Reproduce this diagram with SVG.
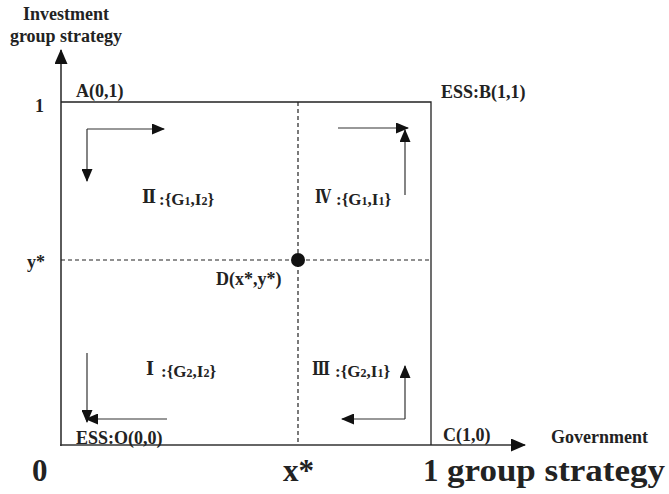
<svg xmlns="http://www.w3.org/2000/svg" width="669" height="494" viewBox="0 0 669 494">
<style>
text{font-family:"Liberation Serif","DejaVu Serif",serif;font-weight:bold;fill:#222}
.s18{font-size:18px}
.s17{font-size:17px}
.sub{font-size:12px}
.big{font-size:31px}
.rn{font-size:19px;font-family:"DejaVu Serif","Liberation Serif",serif}
.ln{stroke:#222;stroke-width:1.3;fill:none}
.ax{stroke:#333;stroke-width:1.6;fill:none}
.ds{stroke:#222;stroke-width:1.2;stroke-dasharray:4,3;fill:none}
.ar{stroke:#333;stroke-width:1.2;fill:none;marker-end:url(#ah)}
</style>
<defs>
<marker id="ah" markerWidth="13" markerHeight="11" refX="12" refY="5.5" orient="auto" markerUnits="userSpaceOnUse">
<path d="M0,0 L13,5.5 L0,11 Z" fill="#111"/>
</marker>
<marker id="axh" markerWidth="15" markerHeight="13" refX="14" refY="6.5" orient="auto" markerUnits="userSpaceOnUse">
<path d="M0,0 L15,6.5 L0,13 Z" fill="#111"/>
</marker>
</defs>
<g id="axes">
<line class="ax" x1="61" y1="446" x2="61" y2="50" marker-end="url(#axh)"/>
<line class="ax" x1="60" y1="445" x2="525" y2="445" marker-end="url(#axh)"/>
</g>
<g id="frame">
<polyline class="ln" points="61,102 431,102 431,445"/>
<line class="ds" x1="298" y1="102" x2="298" y2="445"/>
<line class="ds" x1="61" y1="260" x2="431" y2="260"/>
</g>
<g id="connectors">
<path class="ar" d="M87,129 L164,129"/>
<path class="ar" d="M87,129 L87,181"/>
<path class="ar" d="M338,128 L408,128"/>
<path class="ar" d="M405,195 L405,130"/>
<path class="ar" d="M87,353 L87,422"/>
<path class="ar" d="M167,419 L86,419"/>
<path class="ar" d="M405,419 L405,366"/>
<path class="ar" d="M405,419 L342,419"/>
</g>
<g id="D">
<circle cx="298" cy="260" r="7" fill="#111"/>
<text class="s18" x="216" y="285">D(x*,y*)</text>
</g>
<g id="labels">
<text class="s18" x="66" y="20" text-anchor="middle">Investment</text>
<text class="s18" x="66" y="42" text-anchor="middle">group strategy</text>
<text class="s18" x="76" y="97">A(0,1)</text>
<text class="s18" x="441" y="98">ESS:B(1,1)</text>
<text class="s18" x="35" y="112">1</text>
<text class="s18" x="27" y="268">y*</text>
<text class="s18" x="76" y="444">ESS:O(0,0)</text>
<text class="s18" x="443" y="441">C(1,0)</text>
<text class="s18" x="551" y="443">Government</text>
<text class="big" x="32" y="481">0</text>
<text class="big" x="283" y="481">x*</text>
<text class="big" x="423" y="481">1</text>
<text class="big" x="447" y="481" textLength="218" lengthAdjust="spacingAndGlyphs">group strategy</text>
</g>
<g id="q2">
<text class="rn" x="142" y="203" textLength="14" lengthAdjust="spacingAndGlyphs">Ⅱ</text>
<text class="s17" x="159" y="205">:{G<tspan class="sub">1</tspan>,I<tspan class="sub">2</tspan>}</text>
</g>
<g id="q4">
<text class="rn" x="315" y="203" textLength="16" lengthAdjust="spacingAndGlyphs">Ⅳ</text>
<text class="s17" x="336" y="205">:{G<tspan class="sub">1</tspan>,I<tspan class="sub">1</tspan>}</text>
</g>
<g id="q1">
<text class="rn" x="146" y="375" textLength="8" lengthAdjust="spacingAndGlyphs">Ⅰ</text>
<text class="s17" x="161" y="377">:{G<tspan class="sub">2</tspan>,I<tspan class="sub">2</tspan>}</text>
</g>
<g id="q3">
<text class="rn" x="312" y="375" textLength="18" lengthAdjust="spacingAndGlyphs">Ⅲ</text>
<text class="s17" x="335" y="377">:{G<tspan class="sub">2</tspan>,I<tspan class="sub">1</tspan>}</text>
</g>
</svg>
